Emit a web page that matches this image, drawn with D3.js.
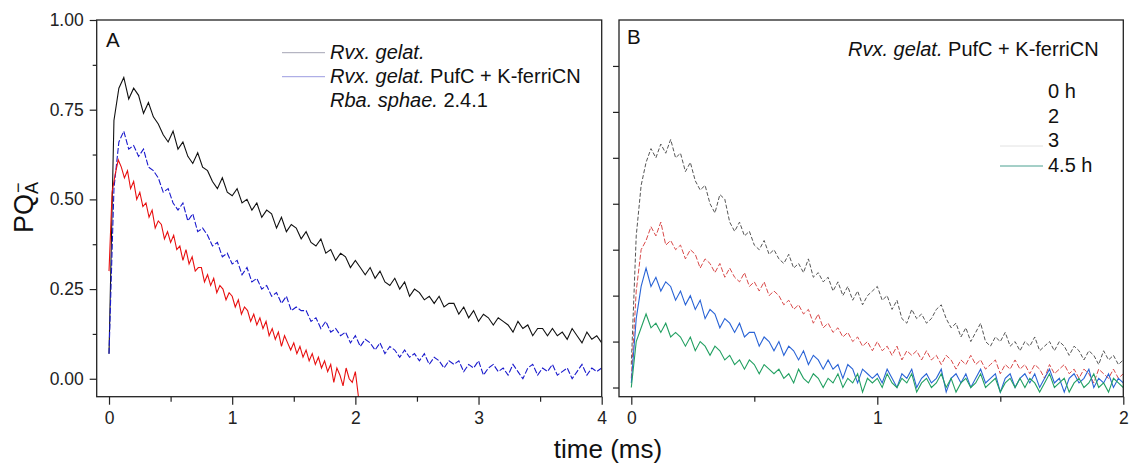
<!DOCTYPE html>
<html><head><meta charset="utf-8">
<script src="https://cdn.jsdelivr.net/npm/d3@7"></script>
<style>
html,body{margin:0;padding:0;background:#fff;}
svg{display:block;font-family:"Liberation Sans",Arial,sans-serif;}
</style></head>
<body><svg id="c" width="1129" height="464"></svg>
<script>
// ---- Panel A data (time step in ms, values PQA-) ----
const stepA = 0.04;
const rvxGelat = [0.07,0.72,0.81,0.84,0.78,0.81,0.79,0.74,0.77,0.73,
0.71,0.68,0.66,0.69,0.64,0.66,0.62,0.60,0.63,0.59,
0.58,0.55,0.53,0.56,0.52,0.51,0.53,0.49,0.50,0.47,
0.49,0.45,0.47,0.46,0.42,0.45,0.41,0.43,0.42,0.39,
0.41,0.38,0.37,0.39,0.35,0.36,0.33,0.35,0.34,0.31,
0.33,0.31,0.29,0.31,0.28,0.30,0.27,0.26,0.28,0.25,
0.27,0.23,0.25,0.24,0.22,0.23,0.21,0.23,0.20,0.21,
0.21,0.18,0.20,0.17,0.19,0.16,0.18,0.17,0.15,0.17,
0.16,0.15,0.13,0.16,0.14,0.15,0.12,0.14,0.14,0.12,
0.14,0.12,0.13,0.11,0.14,0.12,0.10,0.13,0.11,0.12,0.10];
const rvxPufC = [0.07,0.53,0.66,0.69,0.64,0.65,0.62,0.64,0.59,0.58,
0.56,0.52,0.53,0.49,0.47,0.49,0.44,0.46,0.41,0.42,
0.40,0.37,0.38,0.34,0.35,0.32,0.33,0.29,0.31,0.27,
0.28,0.25,0.26,0.23,0.24,0.21,0.23,0.19,0.20,0.19,
0.19,0.16,0.17,0.14,0.16,0.13,0.14,0.12,0.13,0.10,
0.12,0.09,0.11,0.10,0.08,0.10,0.07,0.09,0.08,0.06,
0.08,0.06,0.07,0.05,0.07,0.04,0.06,0.05,0.03,0.05,
0.04,0.05,0.02,0.04,0.03,0.05,0.01,0.03,0.04,0.02,
0.03,0.01,0.04,0.02,0.00,0.03,0.04,0.01,0.03,0.02,
0.04,0.01,0.02,0.03,0.00,0.02,0.04,0.01,0.03,0.02,0.03];
const stepRba = 0.025;
const rbaSphae = [0.30,0.52,0.57,0.61,0.59,0.56,0.58,0.53,0.55,0.50,
0.52,0.48,0.49,0.45,0.47,0.42,0.44,0.43,0.39,0.41,
0.38,0.40,0.36,0.37,0.33,0.36,0.32,0.34,0.30,0.31,
0.31,0.27,0.29,0.26,0.28,0.24,0.26,0.25,0.22,0.24,
0.23,0.20,0.22,0.18,0.20,0.19,0.16,0.18,0.15,0.17,
0.14,0.16,0.12,0.14,0.11,0.13,0.09,0.12,0.10,0.08,
0.10,0.07,0.09,0.06,0.08,0.05,0.07,0.04,0.06,0.03,
0.05,0.02,0.04,-0.01,0.03,0.01,-0.02,0.03,0.00,-0.01,
0.02,-0.05];

// ---- Panel B data ----
const stepB = 0.02;
const h0 = [0.05,0.33,0.44,0.49,0.52,0.50,0.53,0.51,0.54,0.50,
0.51,0.47,0.49,0.45,0.43,0.44,0.40,0.38,0.42,0.41,
0.36,0.34,0.36,0.33,0.34,0.31,0.30,0.32,0.29,0.30,
0.28,0.27,0.29,0.26,0.27,0.25,0.28,0.24,0.25,0.23,
0.24,0.21,0.23,0.20,0.22,0.19,0.21,0.18,0.20,0.21,
0.22,0.19,0.20,0.17,0.19,0.15,0.14,0.17,0.15,0.16,
0.14,0.15,0.17,0.18,0.15,0.13,0.14,0.11,0.13,0.10,
0.12,0.14,0.10,0.09,0.11,0.10,0.12,0.09,0.10,0.08,
0.10,0.09,0.11,0.08,0.09,0.10,0.08,0.10,0.09,0.07,
0.09,0.08,0.06,0.08,0.07,0.05,0.08,0.06,0.07,0.05,0.06];
const h2 = [0.02,0.21,0.30,0.32,0.35,0.33,0.36,0.31,0.32,0.30,
0.31,0.28,0.30,0.29,0.26,0.28,0.27,0.25,0.27,0.24,
0.26,0.24,0.23,0.25,0.22,0.23,0.21,0.23,0.20,0.21,
0.20,0.18,0.19,0.17,0.18,0.16,0.17,0.14,0.16,0.13,
0.14,0.12,0.13,0.11,0.12,0.10,0.11,0.09,0.10,0.08,
0.10,0.08,0.09,0.07,0.09,0.06,0.08,0.07,0.08,0.06,
0.08,0.06,0.07,0.05,0.07,0.06,0.04,0.06,0.05,0.07,
0.05,0.06,0.04,0.05,0.06,0.03,0.05,0.04,0.06,0.04,
0.05,0.03,0.05,0.04,0.02,0.05,0.03,0.04,0.05,0.03,
0.04,0.02,0.04,0.03,0.01,0.04,0.03,0.02,0.04,0.02,0.03];
const h3 = [0.01,0.15,0.22,0.26,0.22,0.24,0.21,0.23,0.22,0.19,
0.21,0.18,0.20,0.17,0.19,0.15,0.17,0.16,0.13,0.15,
0.14,0.12,0.14,0.11,0.12,0.12,0.09,0.11,0.10,0.08,
0.10,0.07,0.09,0.08,0.06,0.08,0.05,0.07,0.06,0.04,
0.06,0.04,0.05,0.02,0.05,0.04,0.01,0.04,0.03,0.02,
0.03,0.01,0.04,0.02,0.00,0.03,0.02,0.04,0.00,0.02,
0.03,0.01,0.02,0.04,-0.01,0.02,0.03,0.01,0.03,0.00,
0.02,0.04,0.01,0.02,0.03,-0.01,0.02,0.03,0.00,0.02,
0.03,0.01,0.03,0.00,0.02,0.04,0.01,0.02,-0.01,0.02,
0.03,0.01,0.02,0.04,0.00,0.02,0.01,0.03,0.00,0.02,0.01];
const h45 = [0.00,0.10,0.13,0.16,0.13,0.14,0.12,0.14,0.11,0.12,
0.11,0.09,0.11,0.08,0.10,0.09,0.07,0.09,0.08,0.06,
0.07,0.05,0.06,0.04,0.06,0.05,0.03,0.05,0.04,0.03,
0.04,0.02,0.03,0.01,0.04,0.02,0.01,0.03,0.02,0.00,
0.02,0.01,0.03,0.00,0.02,0.01,0.03,-0.01,0.02,0.01,
0.02,0.00,0.03,0.01,0.00,0.02,0.01,0.03,-0.01,0.01,
0.02,0.00,0.01,0.03,0.00,0.02,-0.01,0.01,0.02,0.00,
0.01,0.03,0.00,0.01,0.02,-0.01,0.01,0.02,0.00,0.02,
0.00,0.02,0.01,-0.01,0.01,0.03,0.00,0.01,0.02,-0.01,
0.01,0.02,0.00,0.01,0.03,0.00,0.01,-0.01,0.02,0.01,0.00];

// ---- tick values ----
const xTicksA = [0,1,2,3,4], xMinorA = [0.5,1.5,2.5,3.5];
const yTicksA = [0,0.25,0.5,0.75,1], yMinorA = [0.125,0.375,0.625,0.875];
const xTicksB = [0,1,2], xMinorB = [0.5,1.5];
const yTicksB = [0,0.1,0.2,0.3,0.4,0.5,0.6,0.7];

const svg = d3.select("#c");
const xA = d3.scaleLinear([-0.1,4],[96.7,601.7]);
const yA = d3.scaleLinear([-0.05,1],[396.7,20]);
const xB = d3.scaleLinear([-0.05,2],[619,1123.3]);
const yB = d3.scaleLinear([-0.02,0.8],[396.7,20]);

function clipFor(id,x,y){
  svg.append("clipPath").attr("id",id).append("rect")
    .attr("x",x.range()[0]).attr("y",y.range()[1])
    .attr("width",x.range()[1]-x.range()[0]).attr("height",y.range()[0]-y.range()[1]);
}
clipFor("cA",xA,yA); clipFor("cB",xB,yB);

function trace(vals,step,x,y,clip,color,w,dash){
  const line = d3.line().x((d,i)=>x(i*step)).y(d=>y(d));
  svg.append("path").attr("d",line(vals)).attr("fill","none")
    .attr("stroke",color).attr("stroke-width",w)
    .attr("stroke-dasharray",dash||null).attr("clip-path",`url(#${clip})`);
}
trace(rvxGelat,stepA,xA,yA,"cA","#111",1.1);
trace(rvxPufC,stepA,xA,yA,"cA","#1a1acc",1.1,"6,2");
trace(rbaSphae,stepRba,xA,yA,"cA","#e81010",1.1);
trace(h0,stepB,xB,yB,"cB","#555",1,"4,2");
trace(h2,stepB,xB,yB,"cB","#d84a4a",1,"5,2");
trace(h3,stepB,xB,yB,"cB","#2a64d6",1.1);
trace(h45,stepB,xB,yB,"cB","#23a062",1.1);

function axes(x,y,xt,xm,yt,ym,labelsY){
  const b = y.range()[0];
  const l = x.range()[0];
  const g1 = svg.append("g").attr("transform",`translate(0,${b})`)
    .call(d3.axisBottom(x).tickValues(xt).tickSize(8).tickPadding(7).tickFormat(d3.format("d")));
  const g2 = svg.append("g").attr("transform",`translate(0,${b})`)
    .call(d3.axisBottom(x).tickValues(xm).tickSize(5).tickFormat(""));
  const ax = d3.axisLeft(y).tickValues(yt).tickSize(labelsY?7:6).tickPadding(6)
    .tickFormat(labelsY?d3.format(".2f"):"");
  const g3 = svg.append("g").attr("transform",`translate(${l},0)`).call(ax);
  const gs=[g1,g2,g3];
  if(ym){ gs.push(svg.append("g").attr("transform",`translate(${l},0)`)
    .call(d3.axisLeft(y).tickValues(ym).tickSize(4).tickFormat(""))); }
  gs.forEach(g=>{
    g.select(".domain").remove();
    g.selectAll("line").attr("stroke","#222").attr("stroke-width",1.2);
    g.selectAll("text").attr("font-size",17.5).attr("fill","#222")
      .attr("font-family","'Liberation Sans',Arial,sans-serif");
  });
  svg.append("rect").attr("x",l).attr("y",y.range()[1])
    .attr("width",x.range()[1]-l).attr("height",b-y.range()[1])
    .attr("fill","none").attr("stroke","#222").attr("stroke-width",1.3);
}
axes(xA,yA,xTicksA,xMinorA,yTicksA,yMinorA,true);
axes(xB,yB,xTicksB,xMinorB,yTicksB,null,false);

// panel letters
svg.append("text").attr("x",106).attr("y",47).attr("font-size",20.5).attr("fill","#111").text("A");
svg.append("text").attr("x",627).attr("y",43.5).attr("font-size",20.5).attr("fill","#111").text("B");

// legend A
const legA = [
  {name:"Rvx. gelat.", rest:"", color:"#a4a4b4", y:52.7},
  {name:"Rvx. gelat.", rest:" PufC + K-ferriCN", color:"#9c9ce0", y:76.7},
  {name:"Rba. sphae.", rest:" 2.4.1", color:null, y:100.7}
];
legA.forEach(d=>{
  if(d.color) svg.append("line").attr("x1",282).attr("x2",325).attr("y1",d.y).attr("y2",d.y)
    .attr("stroke",d.color).attr("stroke-width",1);
  const t = svg.append("text").attr("x",330).attr("y",d.y+6.5).attr("font-size",20).attr("fill","#111");
  t.append("tspan").attr("font-style","italic").text(d.name);
  if(d.rest) t.append("tspan").text(d.rest);
});

// legend B
const tB = svg.append("text").attr("x",848).attr("y",56).attr("font-size",20).attr("fill","#111");
tB.append("tspan").attr("font-style","italic").text("Rvx. gelat.");
tB.append("tspan").text(" PufC + K-ferriCN");
const legB = [
  {label:"0 h", color:null, y:98},
  {label:"2", color:null, y:122.5},
  {label:"3", color:"#e2e2e2", y:147, ly:146},
  {label:"4.5 h", color:"#4aa090", y:171.5, ly:166}
];
legB.forEach(d=>{
  if(d.color) svg.append("line").attr("x1",1000).attr("x2",1043).attr("y1",d.ly).attr("y2",d.ly)
    .attr("stroke",d.color).attr("stroke-width",1);
  svg.append("text").attr("x",1048).attr("y",d.y).attr("font-size",20).attr("fill","#111").text(d.label);
});

// axis titles
svg.append("text").attr("x",608).attr("y",458).attr("text-anchor","middle")
  .attr("font-size",26).attr("fill","#111").text("time (ms)");
const yl = svg.append("text").attr("transform","translate(33,233) rotate(-90)")
  .attr("font-size",27).attr("fill","#111");
yl.append("tspan").text("PQ");
yl.append("tspan").attr("font-size",18).attr("dy",5).text("A");
yl.append("tspan").attr("font-size",18).attr("dx",-11).attr("dy",-14).text("\u2212");
</script></body></html>
